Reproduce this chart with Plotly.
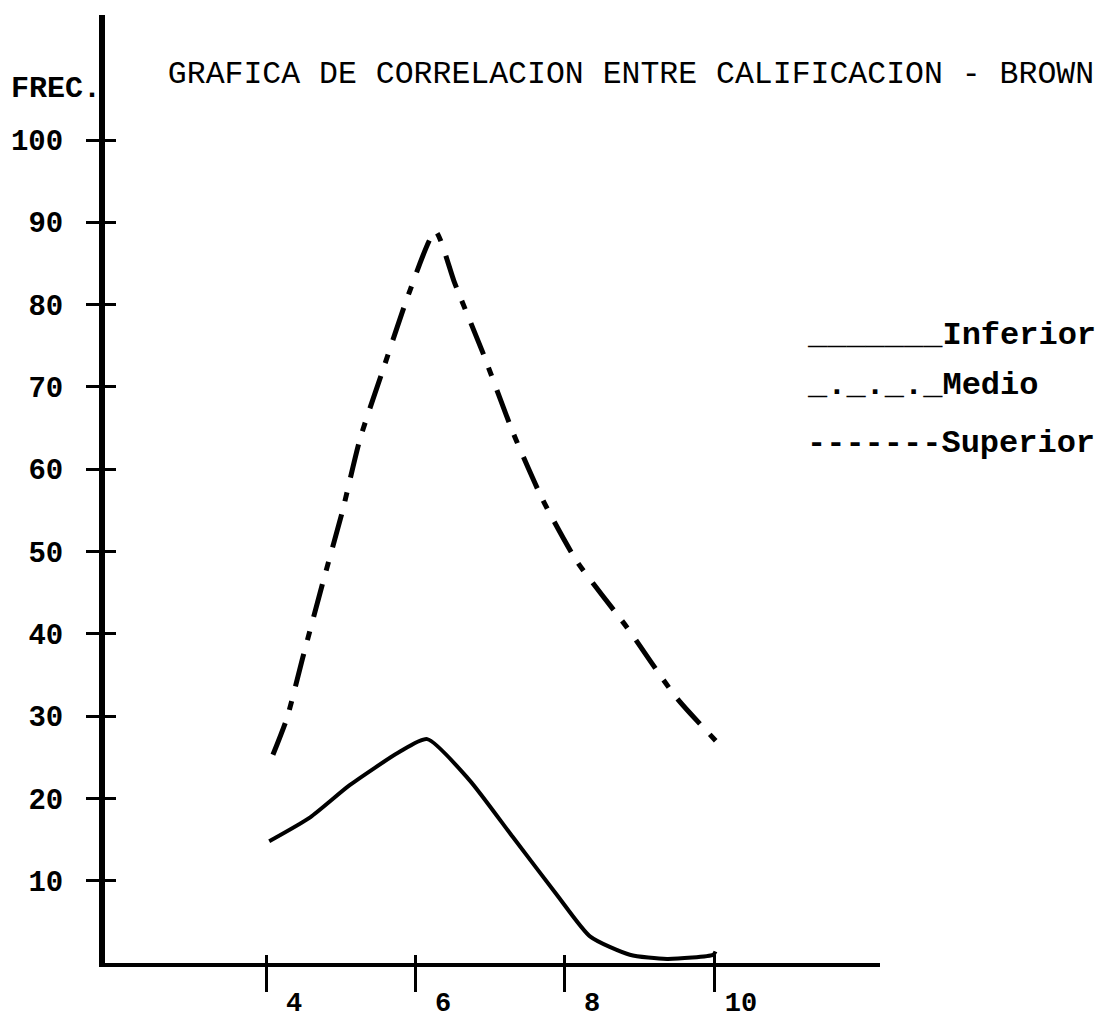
import plotly.graph_objects as go

# ---- data ----
inferior_x = [4.03, 4.58, 5.11, 5.77, 6.15, 6.72, 7.30, 7.89, 8.34, 8.87, 9.37, 9.99, 10.02]
inferior_y = [14.8, 17.7, 21.6, 25.6, 27.2, 22.2, 15.3, 8.3, 3.2, 1.0, 0.5, 1.0, 1.4]

medio_x = [4.08, 4.27, 4.48, 4.74, 5.01, 5.25, 5.58, 5.91, 6.26, 6.52, 6.90, 7.30, 7.70, 8.16, 8.83, 9.50, 10.15]
medio_y = [25.3, 29.8, 37.1, 45.9, 54.8, 63.7, 72.7, 81.5, 88.9, 82.6, 74.1, 64.5, 56.3, 48.8, 40.8, 32.2, 25.8]

x_ticks = [4, 6, 8, 10]
x_ticklabels = ["4", "6", "8", "10"]
y_ticks = [10, 20, 30, 40, 50, 60, 70, 80, 90, 100]
y_ticklabels = ["10", "20", "30", "40", "50", "60", "70", "80", "90", "100"]

legend_labels = ["_______Inferior", "_._._._Medio", "-------Superior"]

# ---- layout geometry (body margin removed by post_script) ----
W, H = 1101, 1024
L, R, T, B = 105, 221, 15, 61
PW, PH = W - L - R, H - T - B

def px_x(p):  # page pixel -> paper fraction
    return (p - L) / PW

def px_y(p):
    return (H - B - p) / PH

MONO = "Liberation Mono, Courier New, monospace"

fig = go.Figure()
fig.add_trace(go.Scatter(x=inferior_x, y=inferior_y, mode="lines", name="Inferior",
                         line=dict(color="black", width=4, shape="spline", smoothing=0.6),
                         showlegend=False))
fig.add_trace(go.Scatter(x=medio_x, y=medio_y, mode="lines", name="Medio",
                         line=dict(color="black", width=5, shape="spline", smoothing=0.6,
                                   dash="34px,14px,9px,15px"),
                         showlegend=False))
# empty helper traces so the overlay axes (crossing tick marks) get drawn
fig.add_trace(go.Scatter(x=[], y=[], xaxis="x2", yaxis="y", showlegend=False, hoverinfo="skip"))
fig.add_trace(go.Scatter(x=[], y=[], xaxis="x", yaxis="y2", showlegend=False, hoverinfo="skip"))

xr = [1.826, 12.228]
yr = [0, 115.19]

fig.update_layout(
    width=W, height=H,
    margin=dict(l=L, r=R, t=T, b=B, pad=0, autoexpand=False),
    paper_bgcolor="white", plot_bgcolor="white",
    font=dict(family=MONO, color="black"),
    hovermode=False,
    title=dict(text="GRAFICA DE CORRELACION ENTRE CALIFICACION - BROWN",
               font=dict(family=MONO, size=31.5, color="black"),
               xref="container", yref="container", automargin=False,
               x=631 / W, y=1 - 72 / H, xanchor="center", yanchor="middle"),
    xaxis=dict(range=xr, showgrid=False, zeroline=False, showline=True, automargin=False,
               linecolor="black", linewidth=4,
               tickmode="array", tickvals=x_ticks, ticktext=x_ticklabels,
               ticks="outside", ticklen=25, tickwidth=3, tickcolor="black",
               ticklabelshift=27, ticklabelstandoff=-13,
               tickfont=dict(family=MONO, size=27, color="black", weight="bold")),
    xaxis2=dict(range=xr, overlaying="x", anchor="y", side="bottom", showgrid=False,
                zeroline=False, showline=False, automargin=False,
                tickmode="array", tickvals=x_ticks,
                ticks="inside", ticklen=8, tickwidth=3, tickcolor="black",
                showticklabels=False),
    yaxis=dict(range=yr, showgrid=False, zeroline=False, showline=True, automargin=False,
               linecolor="black", linewidth=6,
               tickmode="array", tickvals=y_ticks, ticktext=y_ticklabels,
               ticks="outside", ticklen=13, tickwidth=3, tickcolor="black",
               ticklabelstandoff=17,
               tickfont=dict(family=MONO, size=29, color="black", weight="bold")),
    yaxis2=dict(range=yr, overlaying="y", anchor="x", side="left", showgrid=False,
                zeroline=False, showline=False, automargin=False,
                tickmode="array", tickvals=y_ticks,
                ticks="inside", ticklen=11, tickwidth=3, tickcolor="black",
                showticklabels=False),
)

annotations = [
    dict(text="FREC.", x=px_x(56), y=px_y(89), xanchor="center", yanchor="middle",
         font=dict(family=MONO, size=30, color="black", weight="bold")),
]
legend_y = [335, 385, 443]
for lab, yy in zip(legend_labels, legend_y):
    annotations.append(dict(text=lab, x=px_x(805), y=px_y(yy), xanchor="left", yanchor="middle",
                            font=dict(family=MONO, size=32, color="black", weight="bold")))
for a in annotations:
    a.update(xref="paper", yref="paper", showarrow=False)
fig.update_layout(annotations=annotations)

fig.write_html("out.html",
               config={"displayModeBar": False},
               post_script="document.body.style.margin='0';document.body.style.overflow='hidden';")
